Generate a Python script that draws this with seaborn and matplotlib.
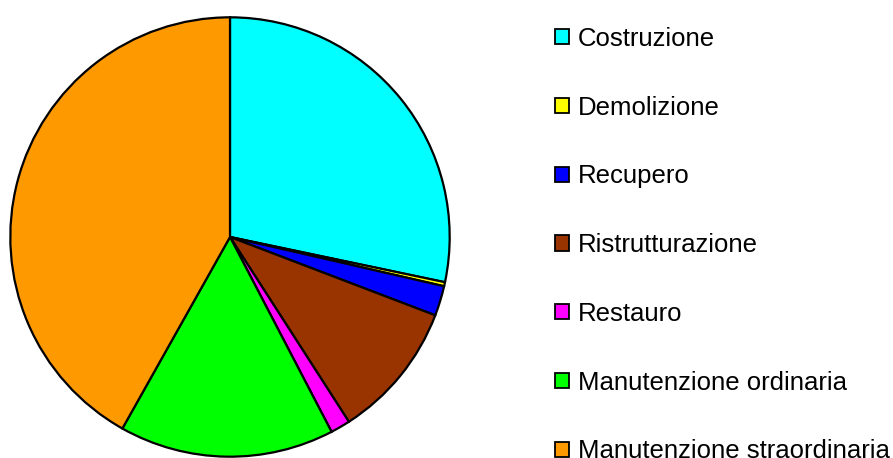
import matplotlib
matplotlib.use("Agg")
import matplotlib.pyplot as plt
from matplotlib.patches import Patch
import seaborn as sns

# Ripartizione degli interventi edilizi per tipologia (%)
categorie = [
    "Costruzione",
    "Demolizione",
    "Recupero",
    "Ristrutturazione",
    "Restauro",
    "Manutenzione ordinaria",
    "Manutenzione straordinaria",
]
quote = [28.3, 0.3, 2.2, 10.1, 1.45, 15.8, 41.85]
colori = ["#00FFFF", "#FFFF00", "#0000FF", "#993300", "#FF00FF", "#00FF00", "#FF9900"]

sns.set_theme(style="white")
plt.rcParams["font.family"] = ["Liberation Sans", "DejaVu Sans"]
palette = sns.color_palette(colori)

fig = plt.figure(figsize=(8.93, 4.58), dpi=100)
ax = fig.add_axes([9 / 893, 0.0, 442 / 893, 442 / 458])

ax.pie(
    quote,
    colors=palette,
    startangle=90,
    counterclock=False,
    wedgeprops=dict(edgecolor="black", linewidth=1.6),
)
ax.set_xlim(-1.006, 1.006)
ax.set_ylim(-1.006, 1.006)
ax.set_aspect("equal")
ax.axis("off")

handles = [Patch(facecolor=c, edgecolor="black", linewidth=1.3) for c in palette]
fig.legend(
    handles,
    categorie,
    loc="upper left",
    bbox_to_anchor=(555 / 893, 1 - 27 / 458),
    frameon=False,
    fontsize=18.5,
    labelcolor="black",
    handlelength=0.53,
    handleheight=0.53,
    handletextpad=0.36,
    labelspacing=1.74,
    borderpad=0,
    borderaxespad=0,
)

fig.savefig("out.png", dpi=100, facecolor="white")
